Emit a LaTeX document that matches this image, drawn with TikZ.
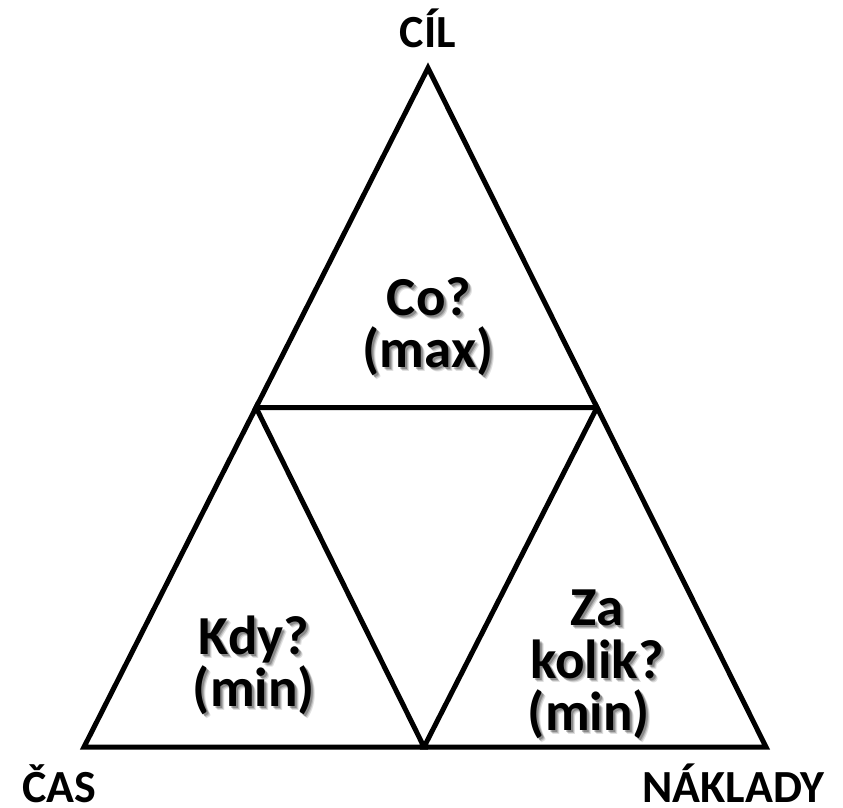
\documentclass[tikz,border=0pt]{standalone}
\usepackage{fontspec}
\setmainfont{Carlito}
\begin{document}
\begin{tikzpicture}[x=1pt,y=-1pt,
  edge/.style={line width=5pt,line join=miter},
  corner/.style={font=\fontsize{46}{50}\selectfont\bfseries,inner sep=0pt},
  inner/.style={font=\fontsize{55}{52}\selectfont\bfseries,inner sep=0pt,anchor=base},
  shade/.style={inner,text=black,text opacity=#1},
]
\useasboundingbox (0,0) rectangle (843,808);
% corner points of the large triangle and the midpoints of its sides
\coordinate (A) at (428,68);
\coordinate (B) at (84,747);
\coordinate (C) at (766,747);
\coordinate (AB) at (256,407.5);
\coordinate (AC) at (597,407.5);
\coordinate (BC) at (424,747);
% the three outer triangles
\draw[edge] (A) -- (AB) -- (AC) -- cycle;
\draw[edge] (AB) -- (B) -- (BC) -- cycle;
\draw[edge] (AC) -- (BC) -- (C) -- cycle;
% corner labels
\node[corner,anchor=base] (cil) at (428,48) {CÍL};
\node[corner,anchor=base west] (cas) at (22,802) {ČAS};
\node[corner,anchor=base east] (naklady) at (825,802) {NÁKLADY};
% labels inside the triangles: one node per line, each with a soft drop shadow
\foreach \name/\x/\y/\txt in {co1/429/315/Co?, co2/428/367/(max),
    kdy1/254/654/Kdy?, kdy2/254/706/(min),
    za1/597/625/Za, za2/597/678/kolik?, za3/589/730/(min)} {
  \foreach \d/\op in {4/0.12,3/0.18,2/0.25}
    \node[shade=\op] at (\x+\d,\y+\d) {\txt};
  \node[inner] (\name) at (\x,\y) {\txt};
}
\end{tikzpicture}
\end{document}
